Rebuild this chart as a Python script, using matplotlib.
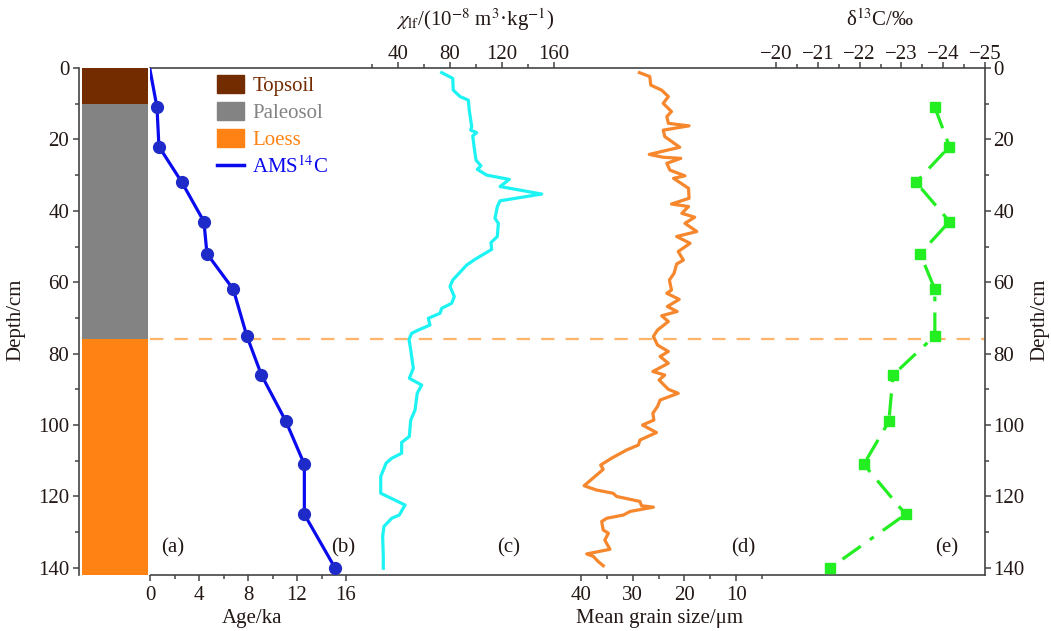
import numpy as np
import matplotlib.pyplot as plt
from matplotlib.patches import Patch
from matplotlib.lines import Line2D
from matplotlib.ticker import FixedLocator

plt.rcParams['font.family'] = ['Liberation Serif', 'DejaVu Serif']
plt.rcParams['mathtext.fontset'] = 'stix'
plt.rcParams['font.size'] = 15

W, H = 1051, 631

# stratigraphic column (depth, cm)
layer_names = ['Topsoil', 'Paleosol', 'Loess']
layer_top = [0, 10, 76]
layer_bottom = [10, 76, 142]
layer_colors = ['#732B00', '#838383', '#FF8314']
boundary_depth = 76

# AMS 14C ages and d13C, same sampling depths
sample_depth = [11, 22, 32, 43, 52, 62, 75, 86, 99, 111, 125, 140]
ams_age = [0.57, 0.73, 2.6, 4.4, 4.65, 6.8, 7.9, 9.1, 11.1, 12.6, 12.6, 15.1]
d13c = [-23.8, -24.15, -23.35, -24.15, -23.45, -23.8, -23.8, -22.8, -22.7, -22.1, -23.1, -21.3]

# magnetic susceptibility
chi_depth = [1.3, 2.9, 6.2, 8.0, 9.0, 11.8, 16.4, 17.4, 18.1, 19.0, 22.0, 25.8, 27.4, 28.4, 30.0,
             31.2, 33.2, 35.3, 37.2, 38.8, 42.1, 43.5, 47.2, 48.9, 50.8, 53.6, 55.2, 59.4, 61.2, 64.0,
             65.9, 67.3, 68.7, 70.1, 72.0, 73.4, 74.3, 76.0, 79.0, 80.8, 84.1, 86.9, 88.8, 91.1, 95.8,
             98.6, 103.2, 104.9, 107.9, 109.3, 110.7, 114.4, 119.1, 122.4, 125.2, 126.1, 128.4, 131.2,
             136.8, 140.1]
chi_lf = [73.6, 82.1, 82.5, 87.7, 94.1, 94.8, 96.7, 95.9, 100.5, 97.5, 98.5, 100.0, 103.8, 101.0, 108.2,
          125.6, 118.5, 150.5, 118.5, 116.4, 114.6, 117.2, 116.4, 111.5, 112.1, 99.2, 92.8, 82.1, 80.0, 83.3,
          81.3, 73.6, 72.3, 63.3, 64.6, 55.6, 50.5, 48.5, 49.8, 50.5, 51.8, 48.7, 58.2, 54.8, 53.1,
          49.8, 48.7, 42.8, 42.8, 35.2, 30.8, 26.7, 26.7, 45.4, 41.0, 35.2, 29.2, 28.2,
          28.7, 28.7]

# mean grain size (um)
grain_depth = [1.3, 2.4, 4.8, 6.2, 8.0, 9.9, 12.2, 13.6, 15.5, 16.2, 17.4, 19.2, 22.2, 24.2, 25.0,
               25.3, 26.7, 28.6, 30.2, 30.9, 33.7, 36.5, 38.1, 38.8, 40.7, 41.8, 43.5, 45.8, 47.2, 49.1,
               51.4, 53.8, 54.9, 57.5, 59.4, 62.2, 63.1, 64.8, 66.8, 68.2, 69.4, 71.0, 73.4, 75.2, 77.6,
               79.4, 80.8, 82.7, 85.0, 86.0, 87.4, 90.0, 91.1, 93.0, 94.8, 96.7, 98.6, 100.0, 102.1, 104.2,
               105.6, 107.0, 109.3, 111.2, 112.4, 114.4, 117.0, 118.2, 119.1, 120.0, 121.4, 122.6, 123.0,
               124.2, 125.2, 126.1, 127.0, 129.4, 130.3, 132.2, 134.8, 136.1, 136.8, 138.2, 139.4]
grain_size = [28.7, 26.7, 26.5, 24.4, 23.1, 24.1, 22.5, 23.4, 23.1, 19.1, 24.1, 23.8, 20.9, 26.8, 24.1,
              20.7, 23.4, 22.8, 19.9, 22.1, 19.2, 19.1, 22.5, 19.2, 20.5, 18.0, 19.9, 17.6, 21.5, 18.9,
              21.2, 20.2, 21.5, 22.0, 22.9, 22.5, 23.4, 21.0, 23.3, 21.4, 24.4, 23.1, 25.2, 26.0, 25.2,
              23.1, 24.7, 23.1, 26.1, 23.8, 24.9, 23.1, 21.2, 24.7, 25.2, 26.1, 25.9, 28.1, 25.4, 28.6,
              28.9, 31.2, 34.1, 36.2, 35.7, 37.3, 39.4, 37.0, 33.8, 33.1, 28.6, 28.3, 26.0,
              30.5, 31.8, 35.0, 36.0, 35.7, 34.7, 35.4, 34.4, 38.9, 37.6, 36.7, 35.7]

txt_color = '#231815'
spine_color = '#444444'


def fx(px):
    return px / W


def fy(py):
    return 1 - py / H


fig = plt.figure(figsize=(W / 100, H / 100), dpi=100)

# main panel area (pixels 150..985 x 68..575)
ax = fig.add_axes([fx(150), fy(575), fx(985) - fx(150), fy(68) - fy(575)])
ax.set_ylim(142, 0)
ax.set_xlim(0, 835 / 12.25)
ax.patch.set_visible(False)

# column on the left
ax_col = fig.add_axes([fx(79), fy(575), fx(150) - fx(79), fy(68) - fy(575)])
ax_col.set_ylim(142, 0)
ax_col.set_xlim(0, 71)
for t, b, c in zip(layer_top, layer_bottom, layer_colors):
    ax_col.bar(36, b - t, bottom=t, width=66, color=c, edgecolor='none')
for s in ['top', 'bottom', 'right']:
    ax_col.spines[s].set_visible(False)
ax_col.spines['left'].set_color(spine_color)
ax_col.spines['left'].set_linewidth(1.2)
ax_col.set_xticks([])
ax_col.yaxis.set_major_locator(FixedLocator(np.arange(0, 141, 20)))
ax_col.yaxis.set_minor_locator(FixedLocator(np.arange(10, 141, 20)))
ax_col.tick_params(axis='y', which='major', direction='out', length=4.5, width=1.1,
                   color=spine_color, labelcolor=txt_color, pad=2.5)
ax_col.tick_params(axis='y', which='minor', direction='out', length=3, width=1.1, color=spine_color)

# twin axes
ax_chi = ax.twiny()
ax_g = ax.twiny()
ax_d = ax.twiny()

ax_chi.set_xlim(40 - (398 - 150) / 1.3, 40 + (985 - 398) / 1.3)
ax_g.set_xlim(40 + (581 - 150) / 5.17, 40 - (985 - 581) / 5.17)
ax_d.set_xlim(-20 + (776 - 150) / 41.8, -25)

for a in [ax_chi, ax_g, ax_d]:
    for s in a.spines.values():
        s.set_visible(False)
    a.patch.set_visible(False)

# main axis: age at bottom, depth on right
ax.spines['left'].set_visible(False)
for s in ['top', 'bottom', 'right']:
    ax.spines[s].set_color(spine_color)
    ax.spines[s].set_linewidth(1.2)
ax.yaxis.tick_right()
ax.yaxis.set_major_locator(FixedLocator(np.arange(0, 141, 20)))
ax.yaxis.set_minor_locator(FixedLocator(np.arange(10, 141, 20)))
ax.xaxis.set_major_locator(FixedLocator([0, 4, 8, 12, 16]))
ax.xaxis.set_minor_locator(FixedLocator([2, 6, 10, 14]))
ax.tick_params(which='major', direction='out', length=4.5, width=1.1, color=spine_color,
               labelcolor=txt_color)
ax.tick_params(which='minor', direction='out', length=3, width=1.1, color=spine_color)
ax.tick_params(axis='y', pad=1.5)

ax_g.xaxis.set_ticks_position('bottom')
ax_g.xaxis.set_major_locator(FixedLocator([40, 30, 20, 10]))
ax_g.xaxis.set_minor_locator(FixedLocator([35, 25, 15, 5]))

ax_chi.xaxis.set_ticks_position('top')
ax_chi.xaxis.set_major_locator(FixedLocator([40, 80, 120, 160]))
ax_chi.xaxis.set_minor_locator(FixedLocator([20, 60, 100, 140]))

ax_d.xaxis.set_ticks_position('top')
ax_d.xaxis.set_major_locator(FixedLocator([-20, -21, -22, -23, -24, -25]))
ax_d.xaxis.set_minor_locator(FixedLocator(np.arange(-20.5, -25, -1)))

for a in [ax_g, ax_chi, ax_d]:
    a.tick_params(axis='x', which='major', direction='out', length=4.5, width=1.1,
                  color=spine_color, labelcolor=txt_color, pad=-1.5)
    a.tick_params(axis='x', which='minor', direction='out', length=3, width=1.1, color=spine_color)
ax_g.tick_params(axis='x', pad=3.5)

# boundary
ax.axhline(boundary_depth, color='#FFB36B', lw=1.6, dashes=(6, 5), zorder=1)

# series
ax.plot([0] + ams_age, [0.5] + sample_depth, color='#0A0AEE', lw=2.3, zorder=3)
ax.plot(ams_age, sample_depth, 'o', color='#1E2BC8', ms=8.5, zorder=4)
ax_chi.plot(chi_lf, chi_depth, color='#1EF3F3', lw=2.3)
ax_g.plot(grain_size, grain_depth, color='#F6872D', lw=2.3)
ax_d.plot(d13c, sample_depth, color='#22EE22', lw=2.3, dashes=(7, 3.5, 1.5, 3.5),
          marker='s', ms=6.5, mfc='#22EE22', mec='#22EE22')

# legend
handles = [Patch(color=c) for c in layer_colors] + [Line2D([], [], color='#0A0AEE', lw=2.5)]
labels = layer_names + ['AMS$^{14}$C']
leg = fig.legend(handles, labels, loc='upper left', bbox_to_anchor=(fx(217), fy(75)),
                 frameon=False, borderpad=0, handlelength=1.3, handleheight=0.95,
                 handletextpad=0.4, labelspacing=0.28, borderaxespad=0)
for t, c in zip(leg.get_texts(), layer_colors + ['#0A0AEE']):
    t.set_color(c)

# panel labels
for lab, px in zip(['(a)', '(b)', '(c)', '(d)', '(e)'], [173, 343, 509, 743, 947]):
    fig.text(fx(px), fy(548), lab, ha='center', va='center', color=txt_color)

# axis titles
fig.text(fx(252), fy(618), 'Age/ka', ha='center', va='center', color=txt_color)
fig.text(fx(660), fy(618), 'Mean grain size/μm', ha='center', va='center', color=txt_color)
fig.text(fx(475), fy(20), r'$\chi_{\rm lf}$/(10$^{-8}$ m$^{3}$·kg$^{-1}$)', ha='center', va='center',
         color=txt_color)
fig.text(fx(880), fy(20), 'δ$^{13}$C/‰', ha='center', va='center', color=txt_color)
fig.text(fx(16), fy(320), 'Depth/cm', rotation=90, ha='center', va='center', color=txt_color)
fig.text(fx(1040), fy(320), 'Depth/cm', rotation=90, ha='center', va='center', color=txt_color)

fig.savefig('out.png', dpi=100)
